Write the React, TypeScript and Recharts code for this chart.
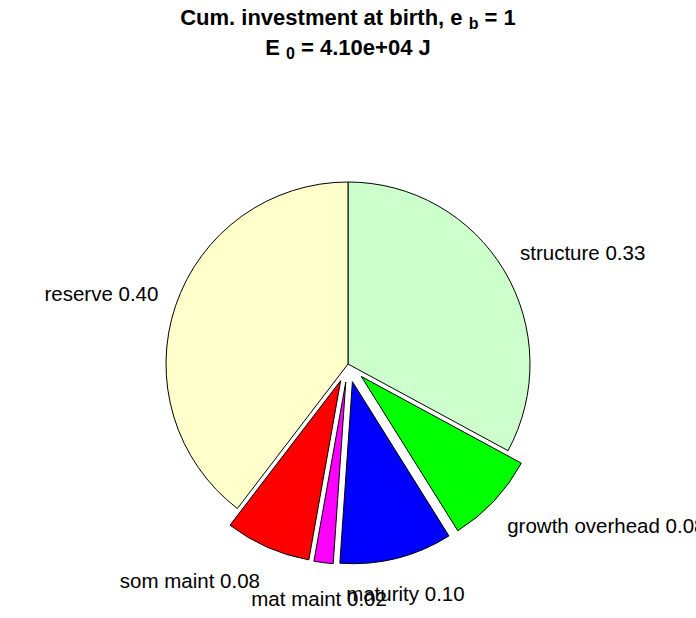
import React from "react";
import { PieChart, Pie, Cell, Sector } from "recharts";

// shares of cumulative investment at birth, clockwise from 12 o'clock
const categories = ["structure", "growth overhead", "maturity", "mat maint", "som maint", "reserve"];
const shares = [0.329, 0.082, 0.1, 0.017, 0.076, 0.396];
const explodedCats = ["growth overhead", "maturity", "mat maint", "som maint"];

const COLORS = ["#ccffcc", "#00ff00", "#0000ff", "#ff00ff", "#ff0000", "#ffffcc"];

const data = categories.map((name, i) => ({
  name,
  value: shares[i],
  explode: explodedCats.includes(name),
}));

const R = 182;
const EXPLODE = 0.1 * R;
const RAD = Math.PI / 180;
const FONT = "'Liberation Sans', Arial, Helvetica, sans-serif";

function isExploded(props: any) {
  return Boolean(props.explode ?? props.payload?.explode);
}

function SliceShape(props: any) {
  const off = isExploded(props) ? EXPLODE : 0;
  const a = props.midAngle * RAD;
  return (
    <Sector
      {...props}
      cx={props.cx + off * Math.cos(a)}
      cy={props.cy - off * Math.sin(a)}
      stroke="#000"
      strokeWidth={1}
    />
  );
}

function renderLabel(props: any) {
  const { cx, cy, midAngle, outerRadius } = props;
  const entry = props.payload ?? props;
  const off = isExploded(props) ? EXPLODE : 0;
  const sx = Math.cos(midAngle * RAD);
  const sy = Math.sin(midAngle * RAD);
  const centered = Math.abs(sx) < 0.35;
  const anchor = centered ? "middle" : sx > 0 ? "start" : "end";
  const x = cx + ((centered ? 1.2 : 1.1) * outerRadius + off) * sx;
  const y = cy - (1.2 * outerRadius + off) * sy;
  return (
    <text
      x={x}
      y={y}
      textAnchor={anchor}
      dominantBaseline="central"
      fill="#000"
      fontSize={20.5}
      fontFamily={FONT}
    >
      {`${entry.name} ${Number(entry.value).toFixed(2)}`}
    </text>
  );
}

const titleStyle: React.CSSProperties = {
  position: "absolute",
  left: 0,
  width: 696,
  textAlign: "center",
  fontFamily: FONT,
  fontWeight: 700,
  fontSize: 22,
  lineHeight: "22px",
  color: "#000",
  whiteSpace: "pre",
};

const subStyle: React.CSSProperties = { position: "relative", top: 4, fontSize: 16 };

export default function App() {
  return (
    <div style={{ position: "absolute", left: 0, top: 0, width: 696, height: 618, overflow: "hidden", background: "#fff" }}>
      <div style={{ ...titleStyle, top: 7 }}>
        Cum. investment at birth, e <span style={subStyle}>b</span> = 1
      </div>
      <div style={{ ...titleStyle, top: 37 }}>
        E <span style={subStyle}>0</span> = 4.10e+04 J
      </div>
      <PieChart width={696} height={618} margin={{ top: 0, right: 0, bottom: 0, left: 0 }}>
        <Pie
          data={data}
          dataKey="value"
          nameKey="name"
          cx={348}
          cy={364}
          outerRadius={R}
          startAngle={90}
          endAngle={-270}
          stroke="#000"
          strokeWidth={1}
          shape={SliceShape}
          activeShape={SliceShape}
          label={renderLabel}
          labelLine={false}
          isAnimationActive={false}
        >
          {data.map((d, i) => (
            <Cell key={d.name} fill={COLORS[i]} />
          ))}
        </Pie>
      </PieChart>
    </div>
  );
}
